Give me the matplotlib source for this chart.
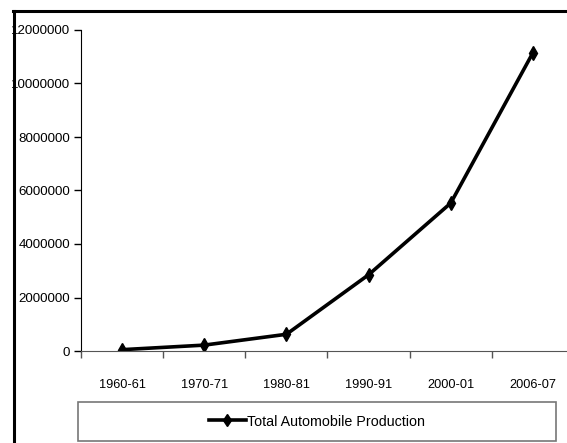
import matplotlib
matplotlib.use("Agg")
import matplotlib.pyplot as plt
from matplotlib.lines import Line2D
from matplotlib.patches import Rectangle

plt.rcParams['font.family'] = ['Liberation Sans', 'DejaVu Sans']

years = ["1960-61", "1970-71", "1980-81", "1990-91", "2000-01", "2006-07"]
production = [50000, 220000, 625000, 2850000, 5530000, 11150000]
yticks = [0, 2000000, 4000000, 6000000, 8000000, 10000000, 12000000]

W, H = 567, 443
fig = plt.figure(figsize=(W / 100, H / 100), dpi=100)
ax = fig.add_axes([81 / W, (H - 351) / H, (574 - 81) / W, (351 - 30) / H])

x = list(range(len(years)))
ax.plot(x, production, color="black", lw=2.6, marker="d", markersize=7,
        label="Total Automobile Production")

ax.set_xlim(-0.5, len(years) - 0.5)
ax.set_ylim(0, 12000000)
ax.set_yticks(yticks)
ax.set_yticklabels([str(v) for v in yticks])

# category labels sit between the boundary ticks
ax.set_xticks([i - 0.5 for i in range(len(years) + 1)])
ax.set_xticklabels([])
ax.set_xticks(x, minor=True)
ax.set_xticklabels(years, minor=True)
ax.tick_params(axis="x", which="minor", length=0, pad=20, labelsize=9.2)
ax.tick_params(axis="x", which="major", length=5, width=1, color="#555555")
ax.tick_params(axis="y", length=5, width=1, pad=3, labelsize=9.6)

ax.spines["top"].set_visible(False)
ax.spines["right"].set_visible(False)
ax.spines["bottom"].set_color("#555555")

# legend box below the axes
fig.add_artist(Rectangle((78 / W, 2 / H), (556 - 78) / W, 39 / H,
                         transform=fig.transFigure, fill=False,
                         edgecolor="#777777", lw=1.2))
fig.legend(loc="center", bbox_to_anchor=((78 + 556) / 2 / W, 21.5 / H),
           frameon=False, fontsize=10.3, handlelength=2.6, handletextpad=0.1,
           markerscale=0.9)

# outer frame on the left and top
fig.add_artist(Line2D([13.5 / W, 13.5 / W], [0, (H - 11) / H], color="black",
                      lw=2.2, transform=fig.transFigure))
fig.add_artist(Line2D([12.5 / W, 1], [(H - 11) / H, (H - 11) / H], color="black",
                      lw=2.2, transform=fig.transFigure))

fig.savefig("out.png", dpi=100)
